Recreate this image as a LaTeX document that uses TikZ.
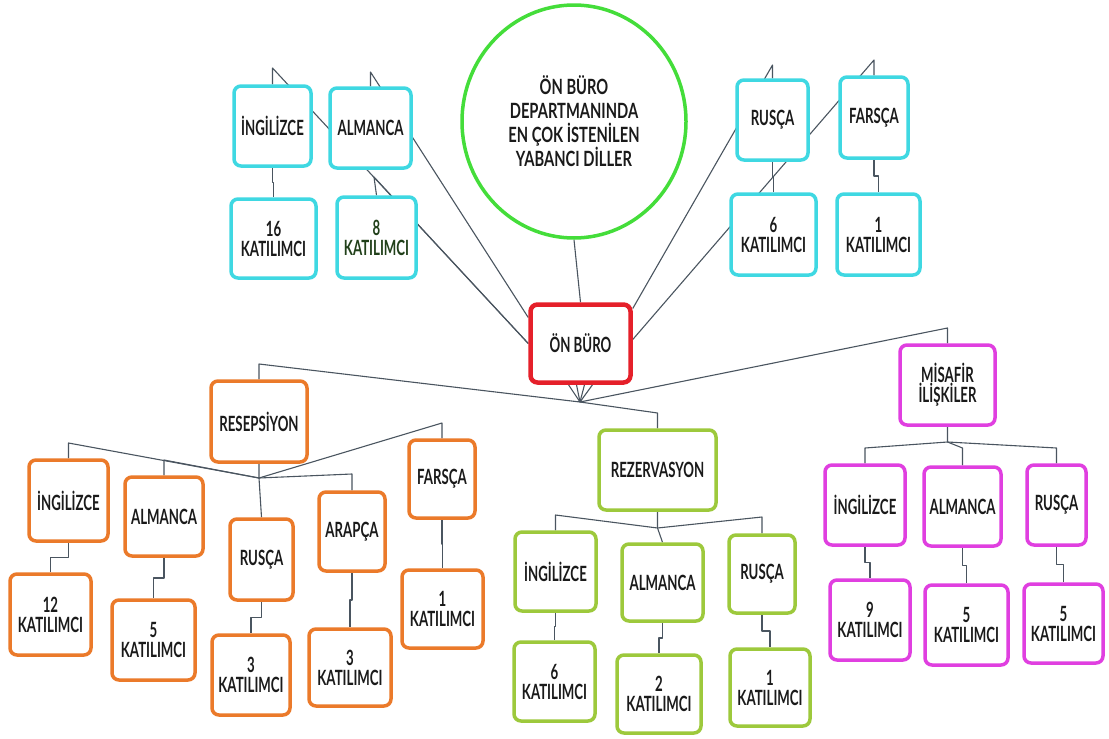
\documentclass[tikz,border=0pt]{standalone}
\usepackage{fontspec}
\setmainfont{Lato}[FakeStretch=0.63]
\newfontfamily\circfont{Lato}[FakeStretch=0.70]
\usetikzlibrary{calc,shapes.geometric}
\definecolor{cyanc}{HTML}{3FD8E2}
\definecolor{greenc}{HTML}{44DD3A}
\definecolor{redc}{HTML}{E5202A}
\definecolor{orangec}{HTML}{EB7A2A}
\definecolor{limec}{HTML}{9DC93C}
\definecolor{magc}{HTML}{E03FE0}
\definecolor{linec}{HTML}{4A5560}
\definecolor{txtc}{HTML}{1A1A1A}
\definecolor{dgreen}{HTML}{21401A}
\pgfdeclarelayer{bg}
\pgfsetlayers{bg,main}
\newcommand\fs{\fontsize{21}{20}\selectfont\bfseries}
\tikzset{
  box/.style={draw, rounded corners=7pt, fill=white, line width=3.5pt, inner sep=0pt,
    align=center, font=\fs, text=txtc},
  wh/.style 2 args={minimum width=#1pt, minimum height=#2pt},
  cy/.style={box, draw=cyanc},
  rd/.style={box, draw=redc, line width=4.5pt},
  og/.style={box, draw=orangec},
  lm/.style={box, draw=limec},
  mg/.style={box, draw=magc},
  conn/.style={draw=linec, line width=1.1pt, line join=round},
}
\newcommand\jog[2]{\draw[conn] (#1.south) |- ($(#1.south)!0.5!(#2.north)$) -| (#2.north);}
\begin{document}
\begin{tikzpicture}[x=1pt,y=-1pt]
\begin{pgfonlayer}{bg}
\fill[white] (0,0) rectangle (1109,739);
\end{pgfonlayer}
\useasboundingbox (0,0) rectangle (1109,739);
% circle
\node[ellipse, draw=greenc, line width=3.5pt, fill=white, minimum width=224pt, minimum height=233pt,
  align=center, font=\circfont\fontsize{21}{24}\selectfont\bfseries, text=txtc, inner sep=0pt] (circ) at (574,121.5)
  {ÖN BÜRO\\DEPARTMANINDA\\EN ÇOK İSTENİLEN\\YABANCI DİLLER};
% center
\node[rd, wh={100}{78}] (onb) at (580.5,343.5) {ÖN BÜRO};
% cyan
\node[cy, wh={77}{80}] (cI) at (272.5,126) {İNGİLİZCE};
\node[cy, wh={81}{80}] (cA) at (370.5,128) {ALMANCA};
\node[cy, wh={85}{79}] (c16) at (273.5,238.5) {16\\KATILIMCI};
\node[cy, wh={79}{81}, text=dgreen] (c8) at (376.5,237.5) {8\\KATILIMCI};
\node[cy, wh={71}{80}] (cR) at (772.5,120) {RUSÇA};
\node[cy, wh={68}{81}] (cF) at (874,117.5) {FARSÇA};
\node[cy, wh={85}{81}] (c6) at (773.5,234.5) {6\\KATILIMCI};
\node[cy, wh={83}{81}] (c1) at (878.5,234.5) {1\\KATILIMCI};
% orange
\node[og, wh={96}{81}] (oRes) at (259,421.5) {RESEPSİYON};
\node[og, wh={79}{81}] (oI) at (68.5,500.5) {İNGİLİZCE};
\node[og, wh={78}{79}] (oA) at (164,516.5) {ALMANCA};
\node[og, wh={63}{81}] (oR) at (261.5,559.5) {RUSÇA};
\node[og, wh={66}{79}] (oAr) at (352,531.5) {ARAPÇA};
\node[og, wh={66}{78}] (oF) at (442,479) {FARSÇA};
\node[og, wh={81}{81}] (o12) at (50.5,614.5) {12\\KATILIMCI};
\node[og, wh={83}{80}] (o5) at (153.5,640) {5\\KATILIMCI};
\node[og, wh={78}{80}] (o3a) at (251,675) {3\\KATILIMCI};
\node[og, wh={82}{77}] (o3b) at (350,667.5) {3\\KATILIMCI};
\node[og, wh={81}{78}] (o1) at (442.5,609) {1\\KATILIMCI};
% lime
\node[lm, wh={117}{80}] (gRez) at (657.5,470) {REZERVASYON};
\node[lm, wh={81}{79}] (gI) at (555.5,571.5) {İNGİLİZCE};
\node[lm, wh={81}{77}] (gA) at (662.5,582.5) {ALMANCA};
\node[lm, wh={66}{78}] (gR) at (762,574) {RUSÇA};
\node[lm, wh={81}{79}] (g6) at (554.5,681.5) {6\\KATILIMCI};
\node[lm, wh={84}{78}] (g2) at (659,694) {2\\KATILIMCI};
\node[lm, wh={80}{77}] (g1) at (770,687.5) {1\\KATILIMCI};
% magenta
\node[mg, wh={95}{80}] (mMis) at (947.5,385) {MİSAFİR\\İLİŞKİLER};
\node[mg, wh={80}{80}] (mI) at (865,505) {İNGİLİZCE};
\node[mg, wh={77}{79}] (mA) at (962.5,506.5) {ALMANCA};
\node[mg, wh={59}{80}] (mR) at (1056.5,505) {RUSÇA};
\node[mg, wh={80}{80}] (m9) at (870,620) {9\\KATILIMCI};
\node[mg, wh={83}{80}] (m5a) at (966.5,625) {5\\KATILIMCI};
\node[mg, wh={79}{79}] (m5b) at (1063.5,623.5) {5\\KATILIMCI};
% elbow coordinates
\coordinate (kI) at (272.5,68);
\coordinate (kA) at (370.5,72);
\coordinate (k8) at (374,177);
\coordinate (kR) at (772.5,65);
\coordinate (kF) at (874,60);
\coordinate (H) at (580,402);
\coordinate (kRes) at (259,364);
\coordinate (kRez) at (657.5,413);
\coordinate (kMis) at (947.5,328);
\coordinate (HO) at (259,478);
\coordinate (kOI) at (68.5,443);
\coordinate (kOA) at (164,460);
\coordinate (kOAr) at (352,474);
\coordinate (kOF) at (442,423);
\coordinate (HG) at (657.5,528);
\coordinate (kGI) at (555.5,515);
\coordinate (kGR) at (762,517);
\coordinate (HM) at (947.5,442);
\coordinate (kMI) at (865,448);
\coordinate (kMA) at (962.5,448);
\coordinate (kMR) at (1056.5,448);
\begin{pgfonlayer}{bg}
\draw[conn] (circ.south) -- (onb.north);
\draw[conn] (onb.west) -- (kI) -- (cI.north);
\draw[conn] ([yshift=26pt]onb.west) -- (kA) -- (cA.north);
\draw[conn] (onb.west) -- (k8) -- (c8.north);
\draw[conn] ([yshift=35pt]onb.east) -- (kR) -- (cR.north);
\draw[conn] ([yshift=4pt]onb.east) -- (kF) -- (cF.north);
\jog{cI}{c16}
\jog{cR}{c6}
\jog{cF}{c1}
\draw[conn] ([xshift=-12pt]onb.south) -- (H) -- (kRes) -- (oRes.north);
\draw[conn] ([xshift=-4pt]onb.south) -- (H) -- (kRez) -- (gRez.north);
\draw[conn] ([xshift=4pt]onb.south) -- (H);
\draw[conn] ([xshift=12pt]onb.south) -- (H) -- (kMis) -- (mMis.north);
% orange
\draw[conn] (oRes.south) -- (HO) -- (kOI) -- (oI.north);
\draw[conn] (HO) -- (kOA) -- (oA.north);
\draw[conn] (HO) -- (oR.north);
\draw[conn] (HO) -- (kOAr) -- (oAr.north);
\draw[conn] (HO) -- (kOF) -- (oF.north);
\jog{oI}{o12}
\jog{oA}{o5}
\jog{oR}{o3a}
\jog{oAr}{o3b}
\jog{oF}{o1}
% lime
\draw[conn] (gRez.south) -- (HG) -- (kGI) -- (gI.north);
\draw[conn] (HG) -- (gA.north);
\draw[conn] (HG) -- (kGR) -- (gR.north);
\jog{gI}{g6}
\jog{gA}{g2}
\jog{gR}{g1}
% magenta
\draw[conn] (mMis.south) -- (HM) -- (kMI) -- (mI.north);
\draw[conn] (HM) -- (kMA) -- (mA.north);
\draw[conn] (HM) -- (kMR) -- (mR.north);
\jog{mI}{m9}
\jog{mA}{m5a}
\jog{mR}{m5b}
\end{pgfonlayer}
\end{tikzpicture}
\end{document}
